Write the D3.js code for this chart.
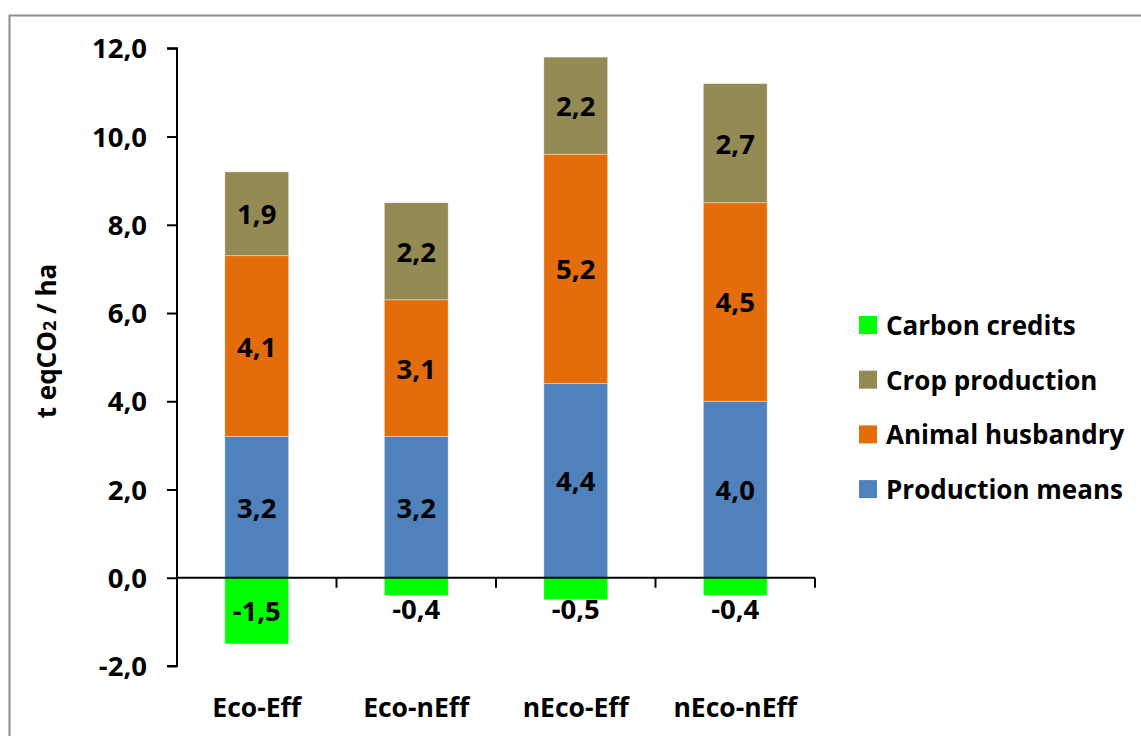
<!DOCTYPE html>
<html>
<head>
<meta charset="utf-8">
<script src="https://cdn.jsdelivr.net/npm/d3@7/dist/d3.min.js"></script>
<style>
  html, body { margin: 0; padding: 0; background: #fff; }
  svg { display: block; }
  text { font-family: "Open Sans", "Liberation Sans", sans-serif; font-weight: 700; fill: #000; }
</style>
</head>
<body>
<svg id="chart" width="1141" height="736"></svg>
<script>
// Farm types
const categories = ["Eco-Eff", "Eco-nEff", "nEco-Eff", "nEco-nEff"];

// Emission components, t eqCO2 / ha
const productionMeans = [3.2, 3.2, 4.4, 4.0];
const animalHusbandry = [4.1, 3.1, 5.2, 4.5];
const cropProduction  = [1.9, 2.2, 2.2, 2.7];
const carbonCredits   = [-1.5, -0.4, -0.5, -0.4];

// Y axis ticks
const yTicks = [-2, 0, 2, 4, 6, 8, 10, 12];

const seriesNames  = ["Production means", "Animal husbandry", "Crop production", "Carbon credits"];
const seriesValues = [productionMeans, animalHusbandry, cropProduction, carbonCredits];
const seriesColors = ["#4F81BD", "#E46C0A", "#948A54", "#00FF00"];

const svg = d3.select("#chart");

// outer frame
svg.append("rect")
  .attr("x", 9.5).attr("y", 15.5)
  .attr("width", 1200).attr("height", 800)
  .attr("fill", "none").attr("stroke", "#8c8c8c").attr("stroke-width", 2);

const plotLeft = 177, plotRight = 815;
const y = d3.scaleLinear().domain([-2, 12]).range([666, 48.3]);
const x = d3.scaleBand().domain(categories).range([plotLeft, plotRight]).paddingInner(0.6).paddingOuter(0.3);

const fmt = v => d3.format(".1f")(v).replace(".", ",").replace("−", "-");

// build stacked segments: positive values stack upward from zero, negatives downward
const segments = [];
categories.forEach((c, i) => {
  let pos = 0, neg = 0;
  seriesValues.forEach((vals, s) => {
    const v = vals[i];
    let y0, y1;
    if (v >= 0) { y0 = pos; y1 = pos + v; pos = y1; }
    else { y0 = neg; y1 = neg + v; neg = y1; }
    segments.push({ cat: c, s, v, y0, y1 });
  });
});

const g = svg.append("g");
g.selectAll("rect.seg").data(segments).join("rect")
  .attr("class", "seg")
  .attr("x", d => x(d.cat))
  .attr("width", x.bandwidth())
  .attr("y", d => y(Math.max(d.y0, d.y1)))
  .attr("height", d => Math.abs(y(d.y0) - y(d.y1)))
  .attr("fill", d => seriesColors[d.s])
  .attr("stroke", "rgba(255,255,255,0.45)")
  .attr("stroke-width", 0.8);

// segment value labels
g.selectAll("text.val").data(segments).join("text")
  .attr("class", "val")
  .attr("x", d => x(d.cat) + x.bandwidth() / 2)
  .attr("y", d => {
    let cy = (y(d.y0) + y(d.y1)) / 2;
    if (d.v < 0) cy = Math.max(cy, y(0) + 31);
    return cy;
  })
  .attr("text-anchor", "middle")
  .attr("dominant-baseline", "central")
  .attr("font-size", 27.5)
  .text(d => fmt(d.v));

// Y axis
const yAxis = d3.axisLeft(y).tickValues(yTicks).tickSize(10).tickPadding(20).tickFormat(fmt);
const ya = svg.append("g").attr("transform", `translate(${plotLeft},0)`).call(yAxis);
ya.select(".domain").attr("stroke", "#000").attr("stroke-width", 2).attr("d", `M-10,${y(12)}H0V${y(-2)}H-10`);
ya.selectAll(".tick line").attr("stroke", "#000").attr("stroke-width", 2);
ya.selectAll(".tick text").attr("font-size", 27.5).attr("dy", "0.35em")
  .style("font-family", "'Open Sans', sans-serif").style("font-weight", 700);

// X axis at zero, with tick marks at category boundaries
const xa = svg.append("g");
xa.append("line")
  .attr("x1", plotLeft).attr("x2", plotRight)
  .attr("y1", y(0)).attr("y2", y(0))
  .attr("stroke", "#000").attr("stroke-width", 2);
const step = x.step();
const boundaries = d3.range(1, categories.length + 1).map(k => plotLeft + k * step);
xa.selectAll("line.tk").data(boundaries).join("line")
  .attr("class", "tk")
  .attr("x1", d => d).attr("x2", d => d)
  .attr("y1", y(0)).attr("y2", y(0) + 10)
  .attr("stroke", "#000").attr("stroke-width", 2);

// category labels
svg.selectAll("text.cat").data(categories).join("text")
  .attr("class", "cat")
  .attr("x", d => x(d) + x.bandwidth() / 2)
  .attr("y", 717)
  .attr("text-anchor", "middle")
  .attr("font-size", 26.5)
  .text(d => d);

// Y axis title
const yt = svg.append("text")
  .attr("transform", `translate(56,341) rotate(-90)`)
  .attr("text-anchor", "middle")
  .attr("font-size", 26);
yt.append("tspan").text("t eqCO");
yt.append("tspan").attr("font-size", 18).text("2");
yt.append("tspan").text(" / ha");

// legend (top to bottom: reverse series order)
const legendOrder = [3, 2, 1, 0];
const lg = svg.append("g");
legendOrder.forEach((s, k) => {
  const cy = 325 + k * 54.7;
  lg.append("rect").attr("x", 859).attr("y", cy - 9).attr("width", 18).attr("height", 18)
    .attr("fill", seriesColors[s]);
  lg.append("text").attr("x", 886).attr("y", cy).attr("dominant-baseline", "central")
    .attr("font-size", 26).text(seriesNames[s]);
});
</script>
</body>
</html>
